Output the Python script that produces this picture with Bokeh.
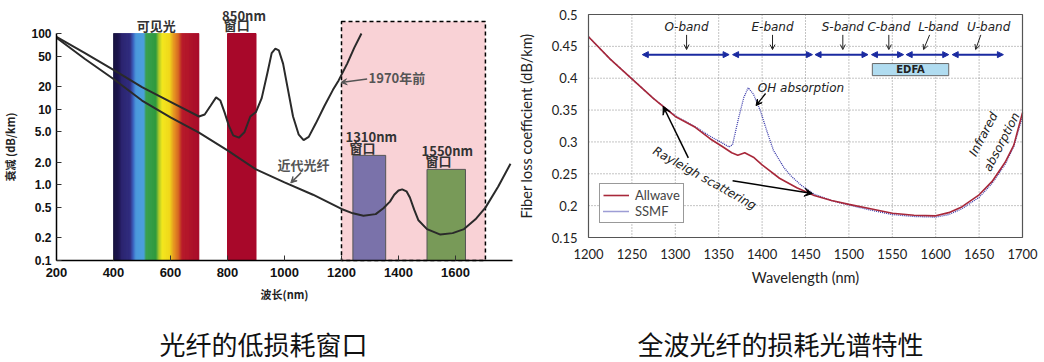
import numpy as np
from bokeh.plotting import figure
from bokeh.models import (FixedTicker, Arrow, NormalHead, VeeHead, OpenHead, Legend,
                          LegendItem, ColumnDataSource, Range1d, LinearAxis, LogAxis, LogScale)
from bokeh.core.properties import value
from bokeh.embed import file_html
from bokeh.resources import INLINE

# ---------------- left chart data ----------------
left_xticks = [200, 400, 600, 800, 1000, 1200, 1400, 1600]
left_yticks = [0.1, 0.2, 0.5, 1.0, 2.0, 5.0, 10.0, 20.0, 50.0, 100.0]
left_ylabels = ["0.1", "0.2", "0.5", "1.0", "2.0", "5.0", "10", "20", "50", "100"]
left_xlim = [200, 1800]

visible_band = [400, 700]
win850 = [800, 900]
win1310 = [1240, 1355]
win1310_top = 2.45
win1550 = [1500, 1635]
win1550_top = 1.6
pink_band = [1200, 1705]
pink_top = 144
bar_top = 100

old_wl = [200, 300, 400, 500, 600, 700, 720, 740, 760, 775, 790, 805, 820, 840, 860, 880, 900,
          920, 940, 955, 968, 980, 995, 1010, 1030, 1050, 1067, 1085, 1110, 1140, 1170, 1190,
          1220, 1245, 1270]
old_att = [90, 55, 33, 19.5, 12.5, 8.0, 8.5, 11, 14.3, 13, 9, 6, 4.5, 4.2, 5, 8, 9.2,
           14, 30, 55, 63, 60, 40, 20, 8, 4.6, 3.9, 4.3, 6.5, 11, 18, 24,
           40, 65, 100]

new_wl = [200, 300, 400, 500, 600, 700, 800, 900, 1000, 1100, 1200, 1240, 1277, 1320, 1347,
          1370, 1385, 1400, 1413, 1428, 1440, 1455, 1470, 1500, 1547, 1590, 1630, 1670, 1705,
          1750, 1793]
new_att = [88, 46, 25, 13, 7.8, 4.9, 2.85, 1.6, 1.08, 0.74, 0.48, 0.42, 0.39, 0.41, 0.49,
           0.6, 0.74, 0.84, 0.87, 0.82, 0.68, 0.47, 0.34, 0.26, 0.22, 0.23, 0.26, 0.35, 0.5,
           0.95, 1.9]

spec_stops = [(400, "#15103c"), (420, "#1e1550"), (430, "#2a2470"), (460, "#302c80"),
              (470, "#3a60c0"), (480, "#4a98dc"), (508, "#4aa0e0"), (515, "#38a050"),
              (550, "#2e9a3c"), (560, "#a8c828"), (572, "#f4e81c"), (598, "#f0d81a"),
              (612, "#e89a20"), (628, "#d86a20"), (642, "#b81a28"), (700, "#a80a2a")]

# ---------------- right chart data ----------------
right_xticks = [1200, 1250, 1300, 1350, 1400, 1450, 1500, 1550, 1600, 1650, 1700]
right_yticks = [0.15, 0.2, 0.25, 0.3, 0.35, 0.4, 0.45, 0.5]
right_ylabels = ["0.15", "0.2", "0.25", "0.3", "0.35", "0.4", "0.45", "0.5"]

aw_wl = [1200, 1225, 1250, 1275, 1300, 1323, 1340, 1355, 1365, 1372, 1380, 1390, 1400, 1420,
         1440, 1460, 1480, 1500, 1525, 1550, 1575, 1600, 1615, 1630, 1650, 1665, 1680, 1690, 1700]
aw_loss = [0.465, 0.430, 0.399, 0.368, 0.340, 0.323, 0.305, 0.292, 0.283, 0.279, 0.283, 0.276,
           0.264, 0.243, 0.228, 0.216, 0.208, 0.202, 0.195, 0.188, 0.185, 0.184, 0.189, 0.198,
           0.217, 0.238, 0.268, 0.295, 0.346]

ss_wl = [1200, 1225, 1250, 1275, 1300, 1325, 1340, 1352, 1362, 1366, 1373, 1379, 1384, 1390,
         1398, 1406, 1413, 1425, 1433, 1445, 1460, 1480, 1500, 1525, 1550, 1575, 1600, 1615,
         1630, 1650, 1665, 1680, 1690, 1700]
ss_loss = [0.465, 0.430, 0.399, 0.368, 0.341, 0.322, 0.309, 0.300, 0.292, 0.296, 0.338, 0.370,
           0.385, 0.375, 0.349, 0.315, 0.287, 0.260, 0.247, 0.232, 0.218, 0.208, 0.201, 0.193,
           0.186, 0.183, 0.182, 0.186, 0.195, 0.213, 0.235, 0.265, 0.293, 0.340]

band_names = ["O-band", "E-band", "S-band", "C-band", "L-band", "U-band"]
band_start = [1262, 1366, 1461, 1526, 1566, 1619]
band_end = [1362, 1458, 1522, 1563, 1615, 1678]
band_label_x = [1313, 1412, 1493, 1546, 1603, 1661]
band_tick_x0 = [1313, 1412, 1493, 1546, 1593, 1652]
band_tick_x1 = [1313, 1412, 1493, 1546, 1586, 1646]
band_y = 0.437
band_label_y = 0.48
edfa = [1527, 1615, 0.404, 0.423]

captions = ["光纤的低损耗窗口", "全波光纤的损耗光谱特性"]

# ---------------- canvas layout (pixels from top-left of the figure) ----------------
W, H = 1044, 362
LX0, LX1 = 56, 512          # 200nm / 1800nm
LY100, LY01 = 33, 260       # 100 / 0.1 dB/km
RX0, RX1 = 588, 1022        # 1200 / 1700 nm
RYT, RYB = 14, 237          # 0.5 / 0.15 dB/km
CAP_X = [263, 780]
CAP_Y = 19                  # from bottom

lk = (LX1 - LX0) / (left_xlim[1] - left_xlim[0])
lx_range = Range1d(left_xlim[0] - LX0 / lk, left_xlim[0] + (W - LX0) / lk)
dec = (LY01 - LY100) / 3.0
ly_range = Range1d(10 ** (-1 - (H - LY01) / dec), 10 ** (2 + LY100 / dec))
rk = (RX1 - RX0) / (right_xticks[-1] - right_xticks[0])
rx_range = Range1d(right_xticks[0] - RX0 / rk, right_xticks[0] + (W - RX0) / rk)
ry = (RYB - RYT) / (right_yticks[-1] - right_yticks[0])
ry_range = Range1d(right_yticks[0] - (H - RYB) / ry, right_yticks[-1] + RYT / ry)

p = figure(width=W, height=H, x_range=Range1d(0, W), y_range=Range1d(0, H),
           output_backend="svg", toolbar_location=None, title=None,
           x_axis_location=None, y_axis_location=None, min_border=0)
p.extra_x_ranges = {"lx": lx_range, "rx": rx_range}
p.extra_y_ranges = {"ly": ly_range, "ry": ry_range}
p.extra_y_scales = {"ly": LogScale()}
p.outline_line_color = None
p.grid.visible = False
p.background_fill_color = "white"
p.border_fill_color = "white"

LR = dict(x_range_name="lx", y_range_name="ly")
RR = dict(x_range_name="rx", y_range_name="ry")

# ================= left chart =================
p.quad(left=[pink_band[0]], right=[pink_band[1]], bottom=[left_yticks[0]], top=[pink_top],
       fill_color="#f9d2d6", line_color="black", line_dash="4 3", line_width=1.5, **LR)

sx = np.arange(visible_band[0], visible_band[1], 2.0)
stop_x = [s[0] for s in spec_stops]
def hex2rgb(h):
    return np.array([int(h[i:i + 2], 16) for i in (1, 3, 5)], dtype=float)
stop_rgb = np.array([hex2rgb(s[1]) for s in spec_stops])
cols = []
for xv in sx + 1:
    c = [int(np.interp(xv, stop_x, stop_rgb[:, k])) for k in range(3)]
    cols.append("#%02x%02x%02x" % tuple(c))
p.quad(left=sx, right=sx + 2, bottom=left_yticks[0], top=bar_top, fill_color=cols,
       line_color=cols, line_width=0.6, **LR)

p.quad(left=[win850[0]], right=[win850[1]], bottom=[left_yticks[0]], top=[bar_top],
       fill_color="#a8082a", line_color="#a8082a", **LR)
p.quad(left=[win1310[0]], right=[win1310[1]], bottom=[left_yticks[0]], top=[win1310_top],
       fill_color="#7a72aa", line_color="#555555", **LR)
p.quad(left=[win1550[0]], right=[win1550[1]], bottom=[left_yticks[0]], top=[win1550_top],
       fill_color="#789a58", line_color="#555555", **LR)

p.line(old_wl, old_att, color="#2a2a2a", line_width=2, **LR)
p.line(new_wl, new_att, color="#2a2a2a", line_width=2, **LR)

lxa = LinearAxis(fixed_location=left_yticks[0], bounds=(left_xlim[0], left_xlim[1]),
                 ticker=FixedTicker(ticks=left_xticks), axis_label="波长(nm)", **LR)
lya = LogAxis(fixed_location=left_xlim[0], bounds=(left_yticks[0], left_yticks[-1]),
              ticker=FixedTicker(ticks=left_yticks), axis_label="衰减 (dB/km)", **LR)
lya.major_label_overrides = {t: s for t, s in zip(left_yticks, left_ylabels)}
for ax in (lxa, lya):
    ax.axis_line_width = 1.5
    ax.axis_line_color = "black"
    ax.minor_tick_line_color = None
    ax.major_tick_in = 5
    ax.major_tick_out = 0
    ax.major_tick_line_color = "#333333"
    ax.major_label_text_font = "Liberation Sans"
    ax.major_label_text_font_style = "bold"
    ax.major_label_text_color = "#111111"
    ax.axis_label_text_font = "Noto Sans CJK SC"
    ax.axis_label_text_font_size = "11px"
    ax.axis_label_text_font_style = "bold"
    ax.axis_label_text_color = "#222222"
lxa.major_label_text_font_size = "13px"
lya.major_label_text_font_size = "12px"
lxa.major_label_standoff = 7
lya.major_label_standoff = 5
lxa.axis_label_standoff = 6
lya.axis_label_standoff = 10
p.add_layout(lxa, "below")
p.add_layout(lya, "left")

lbl_font = value("Noto Sans CJK SC")
p.text(x=[550], y=[128], text=["可见光"], text_font=lbl_font, text_font_style="bold",
       text_font_size="13px", text_align="center", text_baseline="middle",
       text_color="#333333", **LR)
p.text(x=[781, 787, 1214, 1228, 1481, 1495], y=[175, 130, 4.3, 3.15, 2.8, 2.07],
       text=["850nm", "窗口", "1310nm", "窗口", "1550nm", "窗口"], text_font=lbl_font,
       text_font_style="bold", text_font_size="13px", text_align="left",
       text_baseline="middle", text_color="#333333", **LR)
p.text(x=[1295, 975], y=[26, 1.86], text=["1970年前", "近代光纤"], text_font=lbl_font,
       text_font_style="bold", text_font_size="13px", text_align="left",
       text_baseline="middle", text_color="#555555", **LR)
p.add_layout(Arrow(end=VeeHead(size=6, line_color="#555555", fill_color="#555555"),
                   x_start=1290, y_start=25, x_end=1198, y_end=22.5,
                   line_color="#555555", line_width=1.5, **LR))
p.add_layout(Arrow(end=VeeHead(size=6, line_color="#555555", fill_color="#555555"),
                   x_start=1058, y_start=1.45, x_end=1022, y_end=1.06,
                   line_color="#555555", line_width=1.5, **LR))

# ================= right chart =================
grid_style = dict(line_color="#888888", line_dash="1 2", line_width=1)
p.segment(x0=right_xticks[1:-1], y0=[right_yticks[0]] * 9, x1=right_xticks[1:-1],
          y1=[right_yticks[-1]] * 9, **grid_style, **RR)
p.segment(x0=[right_xticks[0]] * 6, y0=right_yticks[1:-1], x1=[right_xticks[-1]] * 6,
          y1=right_yticks[1:-1], **grid_style, **RR)

r2 = p.line(ss_wl, ss_loss, color="#3a3aaa", line_width=1.3, line_dash="1 1", **RR)
r1 = p.line(aw_wl, aw_loss, color="#a8283a", line_width=1.6, **RR)

p.quad(left=[right_xticks[0]], right=[right_xticks[-1]], bottom=[right_yticks[0]],
       top=[right_yticks[-1]], fill_color=None, line_color="#555555", line_width=1.2, **RR)

rxa = LinearAxis(fixed_location=right_yticks[0], bounds=(right_xticks[0], right_xticks[-1]),
                 ticker=FixedTicker(ticks=right_xticks), axis_label="Wavelength (nm)", **RR)
rya = LinearAxis(fixed_location=right_xticks[0], bounds=(right_yticks[0], right_yticks[-1]),
                 ticker=FixedTicker(ticks=right_yticks),
                 axis_label="Fiber loss coefficient (dB/km)", **RR)
rya.major_label_overrides = {t: s for t, s in zip(right_yticks, right_ylabels)}
for ax in (rxa, rya):
    ax.axis_line_color = None
    ax.minor_tick_line_color = None
    ax.major_tick_line_color = None
    ax.major_label_text_font = "Lato"
    ax.major_label_text_font_size = "13px"
    ax.major_label_text_color = "#222222"
    ax.major_label_standoff = 5
    ax.axis_label_text_font = "Lato"
    ax.axis_label_text_font_size = "14.5px"
    ax.axis_label_text_font_style = "normal"
    ax.axis_label_text_color = "#222222"
rxa.axis_label_standoff = 7
rya.axis_label_standoff = 14
p.add_layout(rxa, "below")
p.add_layout(rya, "left")

legend = Legend(items=[LegendItem(label="Allwave", renderers=[r1]),
                       LegendItem(label="SSMF", renderers=[r2])],
                location=(599, H - 223), border_line_color="#333333", border_line_width=1.2,
                label_text_font="Lato", label_text_font_size="13px", padding=3, spacing=0,
                margin=0, glyph_width=26, glyph_height=14, label_height=14, label_standoff=6,
                background_fill_alpha=1)
p.add_layout(legend)

band_src = ColumnDataSource(dict(x0=band_start, x1=band_end, y=[band_y] * len(band_start)))
blue = "#1a2aa0"
p.add_layout(Arrow(source=band_src, x_start="x0", y_start="y", x_end="x1", y_end="y",
                   start=NormalHead(size=6, line_color=blue, fill_color=blue),
                   end=NormalHead(size=6, line_color=blue, fill_color=blue),
                   line_color=blue, line_width=2, **RR))
tick_src = ColumnDataSource(dict(x0=band_tick_x0, x1=band_tick_x1,
                                 y0=[band_label_y - 0.012] * 6, y1=[band_y + 0.008] * 6))
p.add_layout(Arrow(source=tick_src, x_start="x0", y_start="y0", x_end="x1", y_end="y1",
                   end=OpenHead(size=5, line_color="#222222", line_width=1),
                   line_color="#222222", line_width=1, **RR))
hand = value("DejaVu Sans")
p.text(x=band_label_x, y=[band_label_y] * 6, text=band_names, text_font=hand,
       text_font_style="italic", text_font_size="12px", text_align="center",
       text_baseline="middle", text_color="#222222", **RR)

p.quad(left=[edfa[0]], right=[edfa[1]], bottom=[edfa[2]], top=[edfa[3]],
       fill_color="#b0dcf0", line_color="#666666", line_width=1, **RR)
p.text(x=[(edfa[0] + edfa[1]) / 2], y=[(edfa[2] + edfa[3]) / 2], text=["EDFA"],
       text_font=value("DejaVu Sans"), text_font_style="bold", text_font_size="10px",
       text_align="center", text_baseline="middle", text_color="#222222", **RR)

p.text(x=[1395], y=[0.385], text=["OH absorption"], text_font=hand, text_font_style="italic",
       text_font_size="12px", text_align="left", text_baseline="middle",
       text_color="#222222", **RR)
p.add_layout(Arrow(end=VeeHead(size=6, fill_color="black"), x_start=1404, y_start=0.376,
                   x_end=1393, y_end=0.357, line_color="black", line_width=1.3, **RR))

p.text(x=[1334], y=[0.243], text=["Rayleigh scattering"], text_font=hand,
       text_font_style="italic", text_font_size="12px", angle=-0.51, text_align="center",
       text_baseline="middle", text_color="#222222", **RR)
p.add_layout(Arrow(end=VeeHead(size=8, fill_color="black"), x_start=1315, y_start=0.275,
                   x_end=1286, y_end=0.356, line_color="black", line_width=1.5, **RR))
p.add_layout(Arrow(end=VeeHead(size=8, fill_color="black"), x_start=1366, y_start=0.239,
                   x_end=1458, y_end=0.219, line_color="black", line_width=1.5, **RR))

p.text(x=[1655, 1676], y=[0.312, 0.300], text=["Infrared", "absorption"], text_font=hand,
       text_font_style="italic", text_font_size="12px", angle=1.09, text_align="center",
       text_baseline="middle", text_color="#222222", **RR)

# ================= captions =================
p.text(x=CAP_X, y=[CAP_Y, CAP_Y], text=captions, text_font=value("Noto Sans CJK SC"),
       text_font_size="26px", text_align="center", text_baseline="middle", text_color="#111111")

open("out.html", "w").write(file_html(p, INLINE))
